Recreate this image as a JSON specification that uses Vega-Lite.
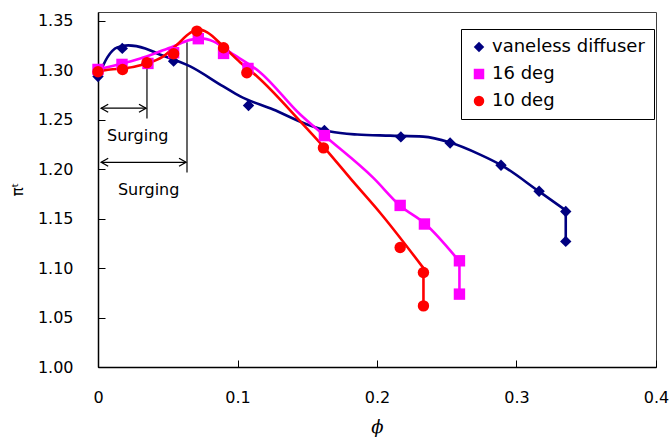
{
  "$schema": "https://vega.github.io/schema/vega-lite/v6.json",
  "width": 558,
  "height": 355,
  "autosize": "none",
  "padding": {"left": 98, "top": 12, "right": 14, "bottom": 71},
  "background": "white",
  "config": {
    "view": {"stroke": "#404040", "strokeWidth": 1},
    "font": "DejaVu Sans",
    "legend": {
      "orient": "none", "legendX": 363, "legendY": 17,
      "strokeColor": "black", "fillColor": "white", "padding": 9, "rowPadding": 9,
      "labelFont": "DejaVu Sans", "labelFontSize": 18, "labelColor": "black",
      "symbolSize": 110, "symbolStrokeWidth": 0, "labelOffset": 4
    }
  },
  "datasets": {
    "markers": [
      {"s": "vaneless diffuser", "phi": 0.0, "pi": 1.2938},
      {"s": "vaneless diffuser", "phi": 0.0174, "pi": 1.3222},
      {"s": "vaneless diffuser", "phi": 0.0351, "pi": 1.307},
      {"s": "vaneless diffuser", "phi": 0.0542, "pi": 1.3093},
      {"s": "vaneless diffuser", "phi": 0.1079, "pi": 1.2644},
      {"s": "vaneless diffuser", "phi": 0.1623, "pi": 1.2391},
      {"s": "vaneless diffuser", "phi": 0.2171, "pi": 1.2327},
      {"s": "vaneless diffuser", "phi": 0.2524, "pi": 1.2266},
      {"s": "vaneless diffuser", "phi": 0.2889, "pi": 1.204},
      {"s": "vaneless diffuser", "phi": 0.3162, "pi": 1.1777},
      {"s": "vaneless diffuser", "phi": 0.3353, "pi": 1.1573},
      {"s": "vaneless diffuser", "phi": 0.3353, "pi": 1.127},
      {"s": "16 deg", "phi": 0.0, "pi": 1.3009},
      {"s": "16 deg", "phi": 0.0172, "pi": 1.306},
      {"s": "16 deg", "phi": 0.0358, "pi": 1.307},
      {"s": "16 deg", "phi": 0.0542, "pi": 1.3178},
      {"s": "16 deg", "phi": 0.0719, "pi": 1.332},
      {"s": "16 deg", "phi": 0.09, "pi": 1.3171},
      {"s": "16 deg", "phi": 0.1075, "pi": 1.3019},
      {"s": "16 deg", "phi": 0.1623, "pi": 1.234},
      {"s": "16 deg", "phi": 0.2166, "pi": 1.1634},
      {"s": "16 deg", "phi": 0.234, "pi": 1.1446},
      {"s": "16 deg", "phi": 0.2591, "pi": 1.1074},
      {"s": "16 deg", "phi": 0.2591, "pi": 1.0737},
      {"s": "10 deg", "phi": 0.0, "pi": 1.2986},
      {"s": "10 deg", "phi": 0.0176, "pi": 1.3009},
      {"s": "10 deg", "phi": 0.0351, "pi": 1.3077},
      {"s": "10 deg", "phi": 0.0542, "pi": 1.3168},
      {"s": "10 deg", "phi": 0.0709, "pi": 1.3397},
      {"s": "10 deg", "phi": 0.09, "pi": 1.3229},
      {"s": "10 deg", "phi": 0.1067, "pi": 1.2976},
      {"s": "10 deg", "phi": 0.1616, "pi": 1.2216},
      {"s": "10 deg", "phi": 0.2166, "pi": 1.1209},
      {"s": "10 deg", "phi": 0.2333, "pi": 1.0955},
      {"s": "10 deg", "phi": 0.2333, "pi": 1.0618}
    ],
    "curves": [
      {"s": "vaneless diffuser", "g": "v1", "o": 1, "phi": 0.0, "pi": 1.2928},
      {"s": "vaneless diffuser", "g": "v1", "o": 2, "phi": 0.0067, "pi": 1.3131},
      {"s": "vaneless diffuser", "g": "v1", "o": 3, "phi": 0.0138, "pi": 1.3232},
      {"s": "vaneless diffuser", "g": "v1", "o": 4, "phi": 0.0217, "pi": 1.3252},
      {"s": "vaneless diffuser", "g": "v1", "o": 5, "phi": 0.0339, "pi": 1.3222},
      {"s": "vaneless diffuser", "g": "v1", "o": 6, "phi": 0.0425, "pi": 1.3171},
      {"s": "vaneless diffuser", "g": "v1", "o": 7, "phi": 0.0661, "pi": 1.304},
      {"s": "vaneless diffuser", "g": "v1", "o": 8, "phi": 0.0898, "pi": 1.2837},
      {"s": "vaneless diffuser", "g": "v1", "o": 9, "phi": 0.102, "pi": 1.2736},
      {"s": "vaneless diffuser", "g": "v1", "o": 10, "phi": 0.1256, "pi": 1.2604},
      {"s": "vaneless diffuser", "g": "v1", "o": 11, "phi": 0.15, "pi": 1.2452},
      {"s": "vaneless diffuser", "g": "v1", "o": 12, "phi": 0.1664, "pi": 1.2381},
      {"s": "vaneless diffuser", "g": "v1", "o": 13, "phi": 0.1858, "pi": 1.2351},
      {"s": "vaneless diffuser", "g": "v1", "o": 14, "phi": 0.2094, "pi": 1.234},
      {"s": "vaneless diffuser", "g": "v1", "o": 15, "phi": 0.2331, "pi": 1.233},
      {"s": "vaneless diffuser", "g": "v1", "o": 16, "phi": 0.2524, "pi": 1.227},
      {"s": "vaneless diffuser", "g": "v1", "o": 17, "phi": 0.2739, "pi": 1.2148},
      {"s": "vaneless diffuser", "g": "v1", "o": 18, "phi": 0.2896, "pi": 1.2037},
      {"s": "vaneless diffuser", "g": "v1", "o": 19, "phi": 0.3154, "pi": 1.1783},
      {"s": "vaneless diffuser", "g": "v1", "o": 20, "phi": 0.3353, "pi": 1.1584},
      {"s": "vaneless diffuser", "g": "v2", "o": 1, "phi": 0.3353, "pi": 1.1584},
      {"s": "vaneless diffuser", "g": "v2", "o": 2, "phi": 0.3353, "pi": 1.127},
      {"s": "16 deg", "g": "m1", "o": 1, "phi": 0.0, "pi": 1.3009},
      {"s": "16 deg", "g": "m1", "o": 2, "phi": 0.0088, "pi": 1.304},
      {"s": "16 deg", "g": "m1", "o": 3, "phi": 0.0303, "pi": 1.312},
      {"s": "16 deg", "g": "m1", "o": 4, "phi": 0.0425, "pi": 1.3181},
      {"s": "16 deg", "g": "m1", "o": 5, "phi": 0.0539, "pi": 1.3242},
      {"s": "16 deg", "g": "m1", "o": 6, "phi": 0.0661, "pi": 1.3308},
      {"s": "16 deg", "g": "m1", "o": 7, "phi": 0.074, "pi": 1.3323},
      {"s": "16 deg", "g": "m1", "o": 8, "phi": 0.0826, "pi": 1.3293},
      {"s": "16 deg", "g": "m1", "o": 9, "phi": 0.0948, "pi": 1.3181},
      {"s": "16 deg", "g": "m1", "o": 10, "phi": 0.1163, "pi": 1.2979},
      {"s": "16 deg", "g": "m1", "o": 11, "phi": 0.145, "pi": 1.2553},
      {"s": "16 deg", "g": "m1", "o": 12, "phi": 0.1614, "pi": 1.2351},
      {"s": "16 deg", "g": "m1", "o": 13, "phi": 0.1972, "pi": 1.1915},
      {"s": "16 deg", "g": "m1", "o": 14, "phi": 0.2166, "pi": 1.1631},
      {"s": "16 deg", "g": "m1", "o": 15, "phi": 0.2345, "pi": 1.1449},
      {"s": "16 deg", "g": "m1", "o": 16, "phi": 0.2591, "pi": 1.1067},
      {"s": "16 deg", "g": "m2", "o": 1, "phi": 0.2591, "pi": 1.1067},
      {"s": "16 deg", "g": "m2", "o": 2, "phi": 0.2591, "pi": 1.0737},
      {"s": "10 deg", "g": "r1", "o": 1, "phi": 0.0, "pi": 1.2989},
      {"s": "10 deg", "g": "r1", "o": 2, "phi": 0.0088, "pi": 1.3009},
      {"s": "10 deg", "g": "r1", "o": 3, "phi": 0.0181, "pi": 1.3019},
      {"s": "10 deg", "g": "r1", "o": 4, "phi": 0.0325, "pi": 1.306},
      {"s": "10 deg", "g": "r1", "o": 5, "phi": 0.0468, "pi": 1.3141},
      {"s": "10 deg", "g": "r1", "o": 6, "phi": 0.0568, "pi": 1.3262},
      {"s": "10 deg", "g": "r1", "o": 7, "phi": 0.0661, "pi": 1.3379},
      {"s": "10 deg", "g": "r1", "o": 8, "phi": 0.0722, "pi": 1.3414},
      {"s": "10 deg", "g": "r1", "o": 9, "phi": 0.0783, "pi": 1.3384},
      {"s": "10 deg", "g": "r1", "o": 10, "phi": 0.0898, "pi": 1.3242},
      {"s": "10 deg", "g": "r1", "o": 11, "phi": 0.102, "pi": 1.308},
      {"s": "10 deg", "g": "r1", "o": 12, "phi": 0.1141, "pi": 1.2938},
      {"s": "10 deg", "g": "r1", "o": 13, "phi": 0.145, "pi": 1.2485},
      {"s": "10 deg", "g": "r1", "o": 14, "phi": 0.1614, "pi": 1.2232},
      {"s": "10 deg", "g": "r1", "o": 15, "phi": 0.1829, "pi": 1.1874},
      {"s": "10 deg", "g": "r1", "o": 16, "phi": 0.2022, "pi": 1.156},
      {"s": "10 deg", "g": "r1", "o": 17, "phi": 0.2333, "pi": 1.1},
      {"s": "10 deg", "g": "r2", "o": 1, "phi": 0.2333, "pi": 1.1},
      {"s": "10 deg", "g": "r2", "o": 2, "phi": 0.2333, "pi": 1.0618}
    ],
    "vlines": [
      {"phi": 0.0351, "pi": 1.3141, "pi2": 1.2513},
      {"phi": 0.0638, "pi": 1.3283, "pi2": 1.1966}
    ],
    "arrows": [
      {"phi": 0.0023, "phi2": 0.0344, "pi": 1.2617},
      {"phi": 0.0023, "phi2": 0.0631, "pi": 1.207}
    ],
    "notes": [
      {"phi": 0.0285, "pi": 1.234, "t": "Surging"},
      {"phi": 0.0363, "pi": 1.1793, "t": "Surging"}
    ]
  },
  "encoding": {
    "x": {
      "field": "phi", "type": "quantitative",
      "scale": {"domain": [0, 0.4], "nice": false, "zero": false},
      "axis": {
        "title": "ϕ", "titleFont": "DejaVu Serif", "titleFontStyle": "italic", "titleFontWeight": "normal",
        "titleFontSize": 18, "titleColor": "black", "titleBaseline": "middle", "titleY": 60, "titleX": 279,
        "values": [0, 0.1, 0.2, 0.3, 0.4], "format": "~g",
        "grid": false, "domainColor": "black", "domainWidth": 1.5,
        "tickColor": "black", "tickSize": -7, "tickWidth": 1,
        "labelFont": "DejaVu Sans", "labelFontSize": 16, "labelColor": "black", "labelPadding": 37,
        "labelBaseline": "middle", "labelFlush": false
      }
    },
    "y": {
      "field": "pi", "type": "quantitative",
      "scale": {"domain": [1.0, 1.359], "nice": false, "zero": false},
      "axis": {
        "title": "πᵗ", "titleFont": "DejaVu Sans", "titleFontWeight": "normal", "titleFontSize": 15,
        "titleColor": "black", "titleAngle": -90, "titleX": -81, "titleY": 177, "titleAlign": "center", "titleBaseline": "middle",
        "values": [1.0, 1.05, 1.1, 1.15, 1.2, 1.25, 1.3, 1.35], "format": ".2f",
        "grid": false, "domainColor": "black", "domainWidth": 1.5,
        "tickColor": "black", "tickSize": -7, "tickWidth": 1,
        "labelFont": "DejaVu Sans", "labelFontSize": 16, "labelColor": "black", "labelPadding": 32,
        "labelBaseline": "middle"
      }
    }
  },
  "layer": [
    {
      "data": {"name": "vlines"},
      "mark": {"type": "rule", "color": "black", "strokeWidth": 1.2},
      "encoding": {"y2": {"field": "pi2"}}
    },
    {
      "data": {"name": "arrows"},
      "mark": {"type": "rule", "color": "black", "strokeWidth": 1.2},
      "encoding": {"x2": {"field": "phi2"}}
    },
    {
      "data": {"name": "arrows"},
      "mark": {"type": "point", "shape": "M1.75,-1L0,0L1.75,1", "filled": false, "stroke": "black", "strokeWidth": 1.3, "size": 64, "opacity": 1}
    },
    {
      "data": {"name": "arrows"},
      "mark": {"type": "point", "shape": "M-1.75,-1L0,0L-1.75,1", "filled": false, "stroke": "black", "strokeWidth": 1.3, "size": 64, "opacity": 1},
      "encoding": {"x": {"field": "phi2", "type": "quantitative"}}
    },
    {
      "data": {"name": "notes"},
      "mark": {"type": "text", "font": "DejaVu Sans", "fontSize": 16, "color": "black", "align": "center", "baseline": "middle"},
      "encoding": {"text": {"field": "t"}}
    },
    {
      "data": {"name": "curves"},
      "mark": {"type": "line", "interpolate": "monotone", "strokeWidth": 2.6},
      "encoding": {
        "stroke": {
          "field": "s", "type": "nominal", "legend": null,
          "scale": {"domain": ["10 deg", "16 deg", "vaneless diffuser"], "range": ["#FF0000", "#FF00FF", "#000080"]}
        },
        "detail": {"field": "g"},
        "order": {"field": "o", "type": "quantitative"}
      }
    },
    {
      "data": {"name": "markers"},
      "mark": {"type": "point", "filled": true, "opacity": 1, "strokeWidth": 0, "size": 130},
      "encoding": {
        "color": {
          "field": "s", "type": "nominal", "title": null,
          "scale": {"domain": ["vaneless diffuser", "16 deg", "10 deg"], "range": ["#000080", "#FF00FF", "#FF0000"]}
        },
        "shape": {
          "field": "s", "type": "nominal", "title": null,
          "scale": {"domain": ["vaneless diffuser", "16 deg", "10 deg"], "range": ["diamond", "square", "circle"]}
        }
      }
    }
  ]
}
